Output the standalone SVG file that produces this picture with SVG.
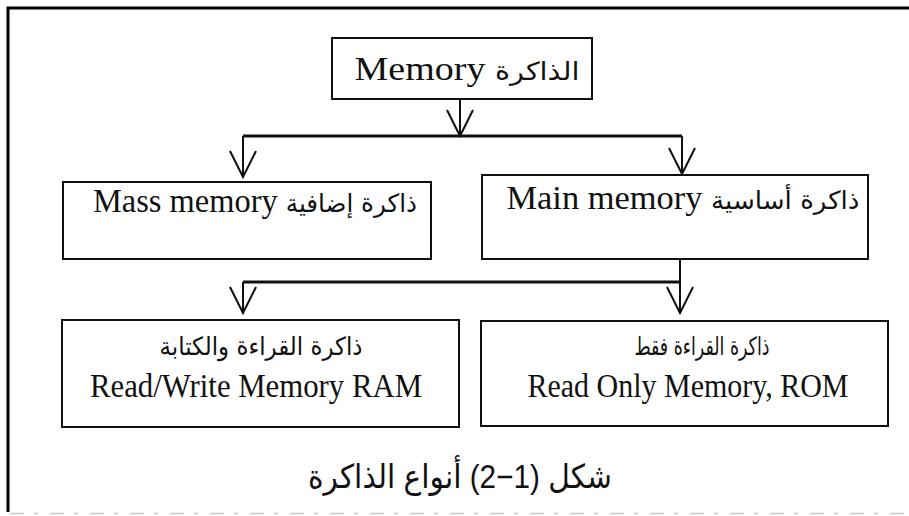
<svg xmlns="http://www.w3.org/2000/svg" width="909" height="516" viewBox="0 0 909 516">
  <style>
    .box { fill: #ffffff; stroke: #111111; stroke-width: 2; }
    .frame { fill: none; stroke: #000000; stroke-width: 3; }
    .wire { fill: none; stroke: #111111; stroke-width: 2; }
    .bus { fill: none; stroke: #111111; stroke-width: 3; }
    .en { font-family: "Liberation Serif", "DejaVu Sans", serif; font-size: 33px; fill: #111111; }
    .ar { font-family: "DejaVu Sans", "Liberation Sans", sans-serif; font-size: 25px; fill: #111111; }
    .arp { font-family: "DejaVu Sans", "Liberation Sans", sans-serif; font-size: 25px; }
    .cap { font-family: "Liberation Sans", "DejaVu Sans", sans-serif; font-size: 33px; fill: #111111; }
  </style>
  <defs>
    <marker id="vhead" viewBox="-28 -15 30 30" refX="0" refY="0" markerWidth="30" markerHeight="30" markerUnits="userSpaceOnUse" orient="auto" overflow="visible">
      <path d="M-26,-13 L0,0 L-26,13" fill="none" stroke="#111111" stroke-width="2"/>
    </marker>
  </defs>

  <rect width="909" height="516" fill="#ffffff"/>

  <g id="frame">
    <path class="frame" d="M6.5,8 H909 M8,6.5 V512"/>
    <path d="M10,513.5 H909" fill="none" stroke="#c8c8c8" stroke-width="1.5" stroke-dasharray="14 10 4 12"/>
  </g>

  <g id="connectors">
    <path class="wire" d="M460,99 V136" marker-end="url(#vhead)"/>
    <path class="bus" d="M243,136 H682"/>
    <path class="wire" d="M243,136 V177" marker-end="url(#vhead)"/>
    <path class="wire" d="M682,136 V174" marker-end="url(#vhead)"/>
    <path class="wire" d="M680,259 V313" marker-end="url(#vhead)"/>
    <path class="bus" d="M243,282 H680"/>
    <path class="wire" d="M243,282 V313" marker-end="url(#vhead)"/>
  </g>

  <g id="node-memory">
    <rect class="box" x="332" y="38" width="260" height="61"/>
    <text class="en" x="467" y="80" text-anchor="middle" direction="rtl" textLength="225" lengthAdjust="spacingAndGlyphs"><tspan class="arp">الذاكرة</tspan> Memory</text>
  </g>

  <g id="node-mass">
    <rect class="box" x="63" y="182" width="368" height="77"/>
    <text class="en" x="255" y="212" text-anchor="middle" direction="rtl" textLength="324" lengthAdjust="spacingAndGlyphs"><tspan class="arp">ذاكرة إضافية</tspan> Mass memory</text>
  </g>

  <g id="node-main">
    <rect class="box" x="482" y="175" width="386" height="84"/>
    <text class="en" x="683" y="209" text-anchor="middle" direction="rtl" textLength="353" lengthAdjust="spacingAndGlyphs"><tspan class="arp">ذاكرة أساسية</tspan> Main memory</text>
  </g>

  <g id="node-ram">
    <rect class="box" x="62" y="320" width="397" height="107"/>
    <text class="ar" x="261" y="355" text-anchor="middle" textLength="203" lengthAdjust="spacingAndGlyphs">ذاكرة القراءة والكتابة</text>
    <text class="en" x="256" y="397" text-anchor="middle" textLength="332" lengthAdjust="spacingAndGlyphs">Read/Write Memory RAM</text>
  </g>

  <g id="node-rom">
    <rect class="box" x="481" y="321" width="407" height="105"/>
    <text class="ar" x="702" y="355" text-anchor="middle" textLength="135" lengthAdjust="spacingAndGlyphs">ذاكرة القراءة فقط</text>
    <text class="en" x="688" y="397" text-anchor="middle" textLength="321" lengthAdjust="spacingAndGlyphs">Read Only Memory, ROM</text>
  </g>

  <g id="caption">
    <text class="cap" x="460" y="488" text-anchor="middle" textLength="304" lengthAdjust="spacingAndGlyphs">شكل (1−2) أنواع الذاكرة</text>
  </g>
</svg>
